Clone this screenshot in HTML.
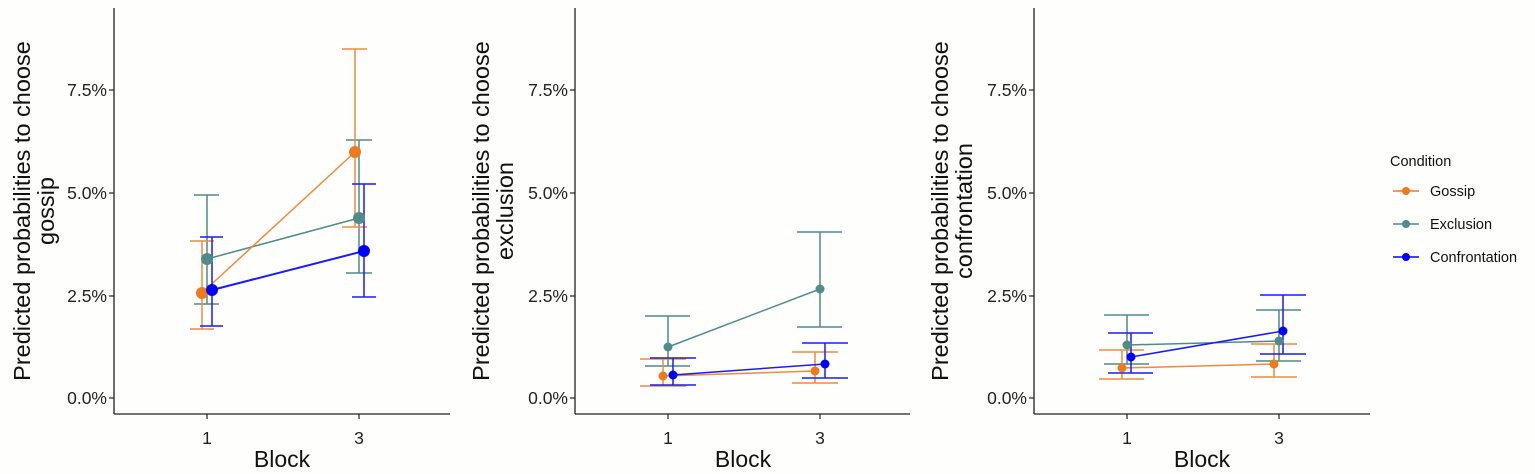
<!DOCTYPE html>
<html><head><meta charset="utf-8"><style>
body{margin:0;background:#fefefd;}
svg{display:block;font-family:"Liberation Sans",Arial,sans-serif;}
</style></head><body>
<svg width="1535" height="474" viewBox="0 0 1535 474" xmlns="http://www.w3.org/2000/svg">
<rect width="1535" height="474" fill="#fefefd"/>
<g id="p1">
 <line x1="114" y1="8" x2="114" y2="414" stroke="#222" stroke-width="1.3"/>
 <line x1="114" y1="414" x2="450" y2="414" stroke="#222" stroke-width="1.3"/>
 <g stroke="#222" stroke-width="1.2">
  <line x1="109" y1="398" x2="114" y2="398"/><line x1="109" y1="296" x2="114" y2="296"/>
  <line x1="109" y1="193" x2="114" y2="193"/><line x1="109" y1="90" x2="114" y2="90"/>
  <line x1="207" y1="414" x2="207" y2="419"/><line x1="359" y1="414" x2="359" y2="419"/>
 </g>
 <g font-size="17.5" fill="#222" text-anchor="end">
  <text x="107" y="404">0.0%</text><text x="107" y="302">2.5%</text><text x="107" y="199">5.0%</text><text x="107" y="96">7.5%</text>
 </g>
 <g font-size="17.5" fill="#222" text-anchor="middle"><text x="207" y="444">1</text><text x="359" y="444">3</text></g>
 <text x="282" y="467" font-size="23" text-anchor="middle" fill="#111">Block</text>
 <text transform="translate(30,211) rotate(-90)" font-size="23.5" text-anchor="middle" fill="#111">Predicted probabilities to choose</text>
 <text transform="translate(54,211) rotate(-90)" font-size="23.5" text-anchor="middle" fill="#111">gossip</text>
 <g stroke="#4e8c87" stroke-width="1.5" fill="none">
  <line x1="207" y1="195" x2="207" y2="304"/><line x1="194" y1="195" x2="219" y2="195"/><line x1="194" y1="304" x2="219" y2="304"/>
  <line x1="359" y1="140" x2="359" y2="273"/><line x1="346" y1="140" x2="372" y2="140"/><line x1="346" y1="273" x2="372" y2="273"/>
  <line x1="207" y1="259" x2="359" y2="218"/>
 </g>
 <g stroke="#ee8b3c" stroke-width="1.5" fill="none">
  <line x1="202" y1="241" x2="202" y2="329"/><line x1="190" y1="241" x2="214" y2="241"/><line x1="190" y1="329" x2="214" y2="329"/>
  <line x1="355" y1="49" x2="355" y2="227"/><line x1="342" y1="49" x2="367" y2="49"/><line x1="342" y1="227" x2="367" y2="227"/>
  <line x1="202" y1="293" x2="355" y2="152"/>
 </g>
 <g stroke="#1a1aff" stroke-width="1.5" fill="none">
  <line x1="212" y1="237" x2="212" y2="326"/><line x1="200" y1="237" x2="223" y2="237"/><line x1="200" y1="326" x2="223" y2="326"/>
  <line x1="364" y1="184" x2="364" y2="297"/><line x1="352" y1="184" x2="376" y2="184"/><line x1="352" y1="297" x2="376" y2="297"/>
  <line x1="212" y1="290" x2="364" y2="251" stroke-width="2"/>
 </g>
 <circle cx="207" cy="259" r="6" fill="#4e8c87"/><circle cx="359" cy="218" r="6" fill="#4e8c87"/>
 <circle cx="202" cy="293" r="6" fill="#ee7a1c"/><circle cx="355" cy="152" r="6" fill="#ee7a1c"/>
 <circle cx="212" cy="290" r="6" fill="#0000ff"/><circle cx="364" cy="251" r="6" fill="#0000ff"/>
</g>

<g id="p2">
 <line x1="575" y1="8" x2="575" y2="414" stroke="#222" stroke-width="1.3"/>
 <line x1="575" y1="414" x2="910" y2="414" stroke="#222" stroke-width="1.3"/>
 <g stroke="#222" stroke-width="1.2">
  <line x1="570" y1="398" x2="575" y2="398"/><line x1="570" y1="296" x2="575" y2="296"/>
  <line x1="570" y1="193" x2="575" y2="193"/><line x1="570" y1="90" x2="575" y2="90"/>
  <line x1="668" y1="414" x2="668" y2="419"/><line x1="820" y1="414" x2="820" y2="419"/>
 </g>
 <g font-size="17.5" fill="#222" text-anchor="end">
  <text x="568" y="404">0.0%</text><text x="568" y="302">2.5%</text><text x="568" y="199">5.0%</text><text x="568" y="96">7.5%</text>
 </g>
 <g font-size="17.5" fill="#222" text-anchor="middle"><text x="668" y="444">1</text><text x="820" y="444">3</text></g>
 <text x="743" y="467" font-size="23" text-anchor="middle" fill="#111">Block</text>
 <text transform="translate(489,211) rotate(-90)" font-size="23.5" text-anchor="middle" fill="#111">Predicted probabilities to choose</text>
 <text transform="translate(513,211) rotate(-90)" font-size="23.5" text-anchor="middle" fill="#111">exclusion</text>
 <g stroke="#4e8c87" stroke-width="1.5" fill="none">
  <line x1="668" y1="316" x2="668" y2="366"/><line x1="645" y1="316" x2="690" y2="316"/><line x1="645" y1="366" x2="690" y2="366"/>
  <line x1="820" y1="232" x2="820" y2="327"/><line x1="797" y1="232" x2="842" y2="232"/><line x1="797" y1="327" x2="842" y2="327"/>
  <line x1="668" y1="347" x2="820" y2="289"/>
 </g>
 <g stroke="#ee8b3c" stroke-width="1.5" fill="none">
  <line x1="663" y1="359" x2="663" y2="386"/><line x1="640" y1="359" x2="686" y2="359"/><line x1="640" y1="386" x2="686" y2="386"/>
  <line x1="815" y1="352" x2="815" y2="383"/><line x1="792" y1="352" x2="838" y2="352"/><line x1="792" y1="383" x2="838" y2="383"/>
  <line x1="663" y1="376" x2="815" y2="371"/>
 </g>
 <g stroke="#1a1aff" stroke-width="1.5" fill="none">
  <line x1="673" y1="358" x2="673" y2="385"/><line x1="650" y1="358" x2="696" y2="358"/><line x1="650" y1="385" x2="696" y2="385"/>
  <line x1="825" y1="343" x2="825" y2="378"/><line x1="802" y1="343" x2="848" y2="343"/><line x1="802" y1="378" x2="848" y2="378"/>
  <line x1="673" y1="375" x2="825" y2="364"/>
 </g>
 <circle cx="668" cy="347" r="4.5" fill="#4e8c87"/><circle cx="820" cy="289" r="4.5" fill="#4e8c87"/>
 <circle cx="663" cy="376" r="4.5" fill="#ee7a1c"/><circle cx="815" cy="371" r="4.5" fill="#ee7a1c"/>
 <circle cx="673" cy="375" r="4.5" fill="#0000ff"/><circle cx="825" cy="364" r="4.5" fill="#0000ff"/>
</g>

<g id="p3">
 <line x1="1034" y1="8" x2="1034" y2="414" stroke="#222" stroke-width="1.3"/>
 <line x1="1034" y1="414" x2="1370" y2="414" stroke="#222" stroke-width="1.3"/>
 <g stroke="#222" stroke-width="1.2">
  <line x1="1029" y1="398" x2="1034" y2="398"/><line x1="1029" y1="296" x2="1034" y2="296"/>
  <line x1="1029" y1="193" x2="1034" y2="193"/><line x1="1029" y1="90" x2="1034" y2="90"/>
  <line x1="1127" y1="414" x2="1127" y2="419"/><line x1="1279" y1="414" x2="1279" y2="419"/>
 </g>
 <g font-size="17.5" fill="#222" text-anchor="end">
  <text x="1027" y="404">0.0%</text><text x="1027" y="302">2.5%</text><text x="1027" y="199">5.0%</text><text x="1027" y="96">7.5%</text>
 </g>
 <g font-size="17.5" fill="#222" text-anchor="middle"><text x="1127" y="444">1</text><text x="1279" y="444">3</text></g>
 <text x="1202" y="467" font-size="23" text-anchor="middle" fill="#111">Block</text>
 <text transform="translate(948,211) rotate(-90)" font-size="23.5" text-anchor="middle" fill="#111">Predicted probabilities to choose</text>
 <text transform="translate(972,211) rotate(-90)" font-size="23.5" text-anchor="middle" fill="#111">confrontation</text>
 <g stroke="#4e8c87" stroke-width="1.5" fill="none">
  <line x1="1127" y1="315" x2="1127" y2="364"/><line x1="1104" y1="315" x2="1149" y2="315"/><line x1="1104" y1="364" x2="1149" y2="364"/>
  <line x1="1279" y1="310" x2="1279" y2="361"/><line x1="1256" y1="310" x2="1301" y2="310"/><line x1="1256" y1="361" x2="1301" y2="361"/>
  <line x1="1127" y1="345" x2="1279" y2="341"/>
 </g>
 <g stroke="#ee8b3c" stroke-width="1.5" fill="none">
  <line x1="1122" y1="350" x2="1122" y2="379"/><line x1="1099" y1="350" x2="1144" y2="350"/><line x1="1099" y1="379" x2="1144" y2="379"/>
  <line x1="1274" y1="344" x2="1274" y2="377"/><line x1="1251" y1="344" x2="1297" y2="344"/><line x1="1251" y1="377" x2="1297" y2="377"/>
  <line x1="1122" y1="368" x2="1274" y2="364"/>
 </g>
 <g stroke="#1a1aff" stroke-width="1.5" fill="none">
  <line x1="1131" y1="333" x2="1131" y2="373"/><line x1="1108" y1="333" x2="1153" y2="333"/><line x1="1108" y1="373" x2="1153" y2="373"/>
  <line x1="1283" y1="295" x2="1283" y2="354"/><line x1="1260" y1="295" x2="1306" y2="295"/><line x1="1260" y1="354" x2="1306" y2="354"/>
  <line x1="1131" y1="357" x2="1283" y2="331"/>
 </g>
 <circle cx="1127" cy="345" r="4.5" fill="#4e8c87"/><circle cx="1279" cy="341" r="4.5" fill="#4e8c87"/>
 <circle cx="1122" cy="368" r="4.5" fill="#ee7a1c"/><circle cx="1274" cy="364" r="4.5" fill="#ee7a1c"/>
 <circle cx="1131" cy="357" r="4.5" fill="#0000ff"/><circle cx="1283" cy="331" r="4.5" fill="#0000ff"/>
</g>

<text x="1390" y="166" font-size="14.5" fill="#111">Condition</text>
<g stroke-width="1.5">
 <line x1="1393" y1="191" x2="1419" y2="191" stroke="#ee7a1c"/><circle cx="1406" cy="191" r="4" fill="#ee7a1c"/>
 <line x1="1393" y1="224" x2="1419" y2="224" stroke="#4e8c87"/><circle cx="1406" cy="224" r="4" fill="#4e8c87"/>
 <line x1="1393" y1="257" x2="1419" y2="257" stroke="#0000ff"/><circle cx="1406" cy="257" r="4" fill="#0000ff"/>
</g>
<g font-size="14.5" fill="#111">
 <text x="1430" y="196">Gossip</text><text x="1430" y="229">Exclusion</text><text x="1430" y="262">Confrontation</text>
</g>
</svg>
</body></html>
